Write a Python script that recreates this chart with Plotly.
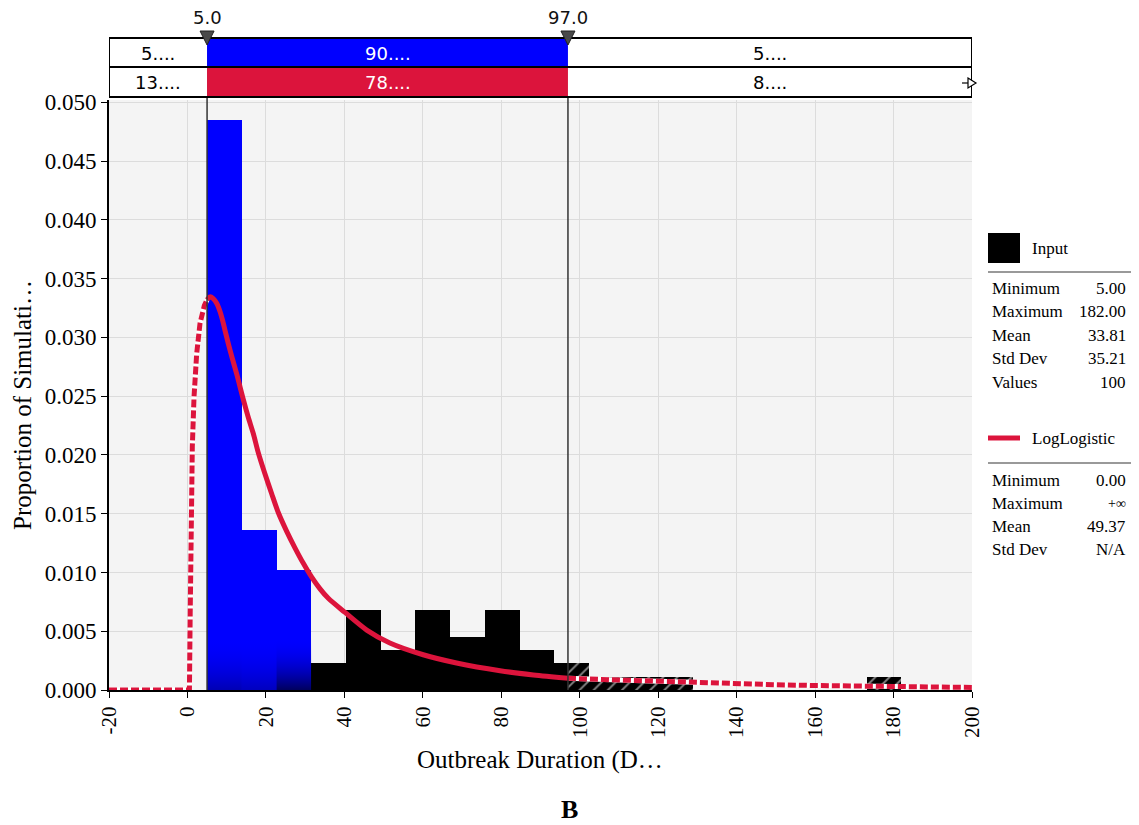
import plotly.graph_objects as go

# ---------------- data ----------------
bin_edges = [5.0, 13.85, 22.7, 31.55, 40.4, 49.25, 58.1, 66.95, 75.8, 84.65, 93.5,
             102.35, 111.2, 120.05, 128.9, 137.75, 146.6, 155.45, 164.3, 173.15, 182.0]
bin_heights = [0.0485, 0.0136, 0.0102, 0.0023, 0.0068, 0.0034, 0.0068, 0.0045, 0.0068, 0.0034,
               0.0023, 0.0011, 0.0011, 0.0011, 0.0, 0.0, 0.0, 0.0, 0.0, 0.0011]

curve_x = [-20, 0.5, 0.7, 0.9, 1.24, 1.67, 2.35, 3.2, 4.3, 5.0, 5.75, 6.57, 7.45, 8.3, 9.15,
           9.57, 10.4, 11.27, 12.55, 13.4, 14.25, 15.5, 16.8, 18.05, 19.75, 21.47, 23.15,
           25.3, 27.4, 29.5, 31.67, 33.8, 35.9, 40.16, 45.7, 51.6, 60.1, 68.6, 79.7,
           88.2, 97.0, 100, 110, 120, 130, 140, 150, 160, 170, 180, 190, 200]
curve_y = [0.0, 0.0, 0.0065, 0.0122, 0.0207, 0.0249, 0.0286, 0.0312, 0.0327, 0.0332, 0.03345,
           0.0333, 0.0329, 0.0322, 0.0312, 0.0306, 0.0295, 0.0284, 0.0269, 0.0258, 0.0247,
           0.0232, 0.0218, 0.0202, 0.0184, 0.0167, 0.0151, 0.0135, 0.0121, 0.0108, 0.0096,
           0.0086, 0.0078, 0.0066, 0.0051, 0.0040, 0.0030, 0.0023, 0.00164, 0.00128, 0.0010,
           0.00095, 0.00085, 0.00075, 0.00063, 0.00052, 0.00045, 0.00038, 0.00032, 0.00028,
           0.00025, 0.00022]

delim_left = 5.0
delim_right = 97.0
band_row1 = ["5....", "90....", "5...."]
band_row2 = ["13....", "78....", "8...."]

x_ticks = [-20, 0, 20, 40, 60, 80, 100, 120, 140, 160, 180, 200]
y_ticks = [0.000, 0.005, 0.010, 0.015, 0.020, 0.025, 0.030, 0.035, 0.040, 0.045, 0.050]

input_stat_labels = ["Minimum", "Maximum", "Mean", "Std Dev", "Values"]
input_stat_values = ["5.00", "182.00", "33.81", "35.21", "100"]
fit_stat_labels = ["Minimum", "Maximum", "Mean", "Std Dev"]
fit_stat_values = ["0.00", "+\u221e", "49.37", "N/A"]

x_title = "Outbreak Duration (D\u2026"
y_title = "Proportion of Simulati\u2026"
panel_label = "B"

# ---------------- styling / geometry ----------------
W, H = 1139, 825
PL, PR, PT, PB = 109, 972, 100, 690
XMIN, XMAX = -20, 200
YMAX = 0.0502
BLUE = "#0000FF"
RED = "#DC143C"
N_BLUE = 3
SERIF = "Liberation Serif, Times New Roman, serif"
SANS = "DejaVu Sans, Verdana, sans-serif"


def px_x(px):
    return (px - PL) / (PR - PL)


def px_y(py):
    return (PB - py) / (PB - PT)


def note(x, y, text, size, family=SERIF, color="black", xanchor="center", xref="paper", angle=0):
    return dict(xref=xref, yref="paper", x=x, y=y, text=text, showarrow=False,
                xanchor=xanchor, yanchor="middle", textangle=angle,
                font=dict(family=family, size=size, color=color))


fig = go.Figure()

# ---- histogram bars (split at right delimiter into solid / hatched) ----
solid = {"blue": ([], [], []), "black": ([], [], [])}
hatch_c, hatch_h, hatch_w = [], [], []
for i, h in enumerate(bin_heights):
    a, b = bin_edges[i], bin_edges[i + 1]
    if h <= 0:
        continue
    col = "blue" if i < N_BLUE else "black"
    if a < delim_right:
        r = min(b, delim_right)
        solid[col][0].append((a + r) / 2)
        solid[col][1].append(h)
        solid[col][2].append(r - a)
    if b > delim_right:
        l = max(a, delim_right)
        hatch_c.append((l + b) / 2)
        hatch_h.append(h)
        hatch_w.append(b - l)

fig.add_trace(go.Bar(x=solid["blue"][0], y=solid["blue"][1], width=solid["blue"][2],
                     marker=dict(color=BLUE, line=dict(width=0)), showlegend=False, hoverinfo="skip"))
fig.add_trace(go.Bar(x=solid["black"][0], y=solid["black"][1], width=solid["black"][2],
                     marker=dict(color="black", line=dict(width=0)), showlegend=False, hoverinfo="skip"))
fig.add_trace(go.Bar(x=hatch_c, y=hatch_h, width=hatch_w,
                     marker=dict(color="black", line=dict(width=0),
                                 pattern=dict(shape="/", fgcolor="white", bgcolor="black",
                                              size=10, solidity=0.2, fillmode="overlay")),
                     showlegend=False, hoverinfo="skip"))

# dark shading at the foot of the blue bars
shade_strength = [0.35, 0.3, 0.75]
for i in range(N_BLUE):
    a, b = bin_edges[i], bin_edges[i + 1]
    top = 0.0045
    s = shade_strength[i]
    fig.add_trace(go.Scatter(
        x=[a, b, b, a, a], y=[0, 0, top, top, 0], mode="lines", line=dict(width=0),
        fill="toself",
        fillgradient=dict(type="vertical",
                          colorscale=[[0, f"rgba(0,0,40,{s})"], [1, "rgba(0,0,255,0)"]],
                          start=0, stop=top),
        showlegend=False, hoverinfo="skip"))

# ---- fitted curve: dashed outside delimiters, solid inside ----
left_x = [x for x in curve_x if x <= delim_left]
left_y = [y for x, y in zip(curve_x, curve_y) if x <= delim_left]
mid_x = [x for x in curve_x if delim_left <= x <= delim_right]
mid_y = [y for x, y in zip(curve_x, curve_y) if delim_left <= x <= delim_right]
right_x = [x for x in curve_x if x >= delim_right]
right_y = [y for x, y in zip(curve_x, curve_y) if x >= delim_right]

for sx, sy in [(left_x, left_y), (right_x, right_y)]:
    fig.add_trace(go.Scatter(x=sx, y=sy, mode="lines",
                             line=dict(color="white", width=5, shape="linear"),
                             showlegend=False, hoverinfo="skip", cliponaxis=False))
    fig.add_trace(go.Scatter(x=sx, y=sy, mode="lines",
                             line=dict(color=RED, width=5, dash="8px,3px", shape="linear"),
                             showlegend=False, hoverinfo="skip", cliponaxis=False))
fig.add_trace(go.Scatter(x=mid_x, y=mid_y, mode="lines",
                         line=dict(color=RED, width=5, shape="spline", smoothing=0.8),
                         showlegend=False, hoverinfo="skip"))

shapes = []
annotations = []

# ---- delimiter vertical lines ----
for d in (delim_left, delim_right):
    shapes.append(dict(type="line", xref="x", yref="paper", x0=d, x1=d, y0=0, y1=px_y(38),
                       line=dict(color="#333333", width=1.5), layer="above"))

# ---- top band ----
r1_top, r1_bot, r2_bot = px_y(38), px_y(67), px_y(97)
cells = [(XMIN, delim_left), (delim_left, delim_right), (delim_right, XMAX)]
for j, (a, b) in enumerate(cells):
    shapes.append(dict(type="rect", xref="x", yref="paper", x0=a, x1=b, y0=r1_bot, y1=r1_top,
                       fillcolor=BLUE if j == 1 else "white", line=dict(width=0)))
    shapes.append(dict(type="rect", xref="x", yref="paper", x0=a, x1=b, y0=r2_bot, y1=r1_bot,
                       fillcolor=RED if j == 1 else "white", line=dict(width=0)))
    tc = "white" if j == 1 else "black"
    annotations.append(note((a + b) / 2, px_y(53), band_row1[j], 18, SANS, tc, xref="x"))
    annotations.append(note((a + b) / 2, px_y(82), band_row2[j], 18, SANS, tc, xref="x"))
shapes.append(dict(type="rect", xref="x", yref="paper", x0=XMIN, x1=XMAX, y0=r2_bot, y1=r1_top,
                   line=dict(color="black", width=2), fillcolor="rgba(0,0,0,0)"))
shapes.append(dict(type="line", xref="x", yref="paper", x0=XMIN, x1=XMAX, y0=r1_bot, y1=r1_bot,
                   line=dict(color="black", width=2)))

# delimiter triangles and labels
half = 7 * (XMAX - XMIN) / (PR - PL)
for d in (delim_left, delim_right):
    path = f"M {d - half},{px_y(31)} L {d + half},{px_y(31)} L {d},{px_y(45)} Z"
    shapes.append(dict(type="path", xref="x", yref="paper", path=path,
                       fillcolor="#4a4a4a", line=dict(color="#222222", width=1)))
    annotations.append(note(d, px_y(17), f"{d:.1f}", 18, SANS, "#111111", xref="x"))

# small arrow at right end of band
shapes.append(dict(type="line", xref="paper", yref="paper", x0=px_x(962), x1=px_x(969),
                   y0=px_y(83), y1=px_y(83), line=dict(color="black", width=1.2)))
shapes.append(dict(type="path", xref="paper", yref="paper",
                   path=f"M {px_x(968)},{px_y(78)} L {px_x(976)},{px_y(83)} L {px_x(968)},{px_y(88)} Z",
                   fillcolor="white", line=dict(color="black", width=1.2)))

# ---- right-hand statistics panel ----
shapes.append(dict(type="rect", xref="paper", yref="paper", x0=px_x(988), x1=px_x(1020),
                   y0=px_y(263), y1=px_y(233), fillcolor="black", line=dict(width=0)))
annotations.append(note(px_x(1030), px_y(248), "Input", 17, xanchor="left"))
shapes.append(dict(type="line", xref="paper", yref="paper", x0=px_x(988), x1=px_x(1131),
                   y0=px_y(272), y1=px_y(272), line=dict(color="#999999", width=2)))
for k, (lab, val) in enumerate(zip(input_stat_labels, input_stat_values)):
    yy = px_y(288 + k * 23.5)
    annotations.append(note(px_x(990), yy, lab, 17, xanchor="left"))
    annotations.append(note(px_x(1128), yy, val, 17, xanchor="right"))

shapes.append(dict(type="line", xref="paper", yref="paper", x0=px_x(988), x1=px_x(1020),
                   y0=px_y(438), y1=px_y(438), line=dict(color=RED, width=5)))
annotations.append(note(px_x(1030), px_y(438), "LogLogistic", 17, xanchor="left"))
shapes.append(dict(type="line", xref="paper", yref="paper", x0=px_x(988), x1=px_x(1131),
                   y0=px_y(463), y1=px_y(463), line=dict(color="#999999", width=2)))
for k, (lab, val) in enumerate(zip(fit_stat_labels, fit_stat_values)):
    yy = px_y(480 + k * 23.3)
    annotations.append(note(px_x(990), yy, lab, 17, xanchor="left"))
    annotations.append(note(px_x(1128), yy, val, 17 if k != 1 else 14, xanchor="right"))

# ---- axis titles and panel label ----
annotations.append(note(px_x(540), px_y(760), x_title, 25))
annotations.append(note(px_x(22), px_y(405), y_title, 25, angle=-90))
annotations.append(note(px_x(569), px_y(810), f"<b>{panel_label}</b>", 26))

fig.update_layout(
    width=W, height=H,
    margin=dict(l=PL, r=W - PR, t=PT, b=H - PB, autoexpand=False),
    paper_bgcolor="white", plot_bgcolor="#f4f4f4",
    barmode="overlay", bargap=0, showlegend=False,
    shapes=shapes, annotations=annotations,
    xaxis=dict(range=[XMIN, XMAX], tickvals=x_ticks, ticktext=[str(v) for v in x_ticks],
               tickangle=-90, showgrid=True, gridcolor="#dcdcdc", gridwidth=1, zeroline=False,
               showline=True, linecolor="black", linewidth=2, ticks="outside", ticklen=6,
               tickcolor="black", tickfont=dict(family=SERIF, size=21, color="black")),
    yaxis=dict(range=[0, YMAX], tickvals=y_ticks, ticktext=[f"{v:.3f}" for v in y_ticks],
               showgrid=True, gridcolor="#dcdcdc", gridwidth=1, zeroline=False,
               showline=True, linecolor="black", linewidth=2, ticks="outside", ticklen=6,
               tickcolor="black", tickfont=dict(family=SERIF, size=23, color="black")),
)

fig.write_html("out.html")
